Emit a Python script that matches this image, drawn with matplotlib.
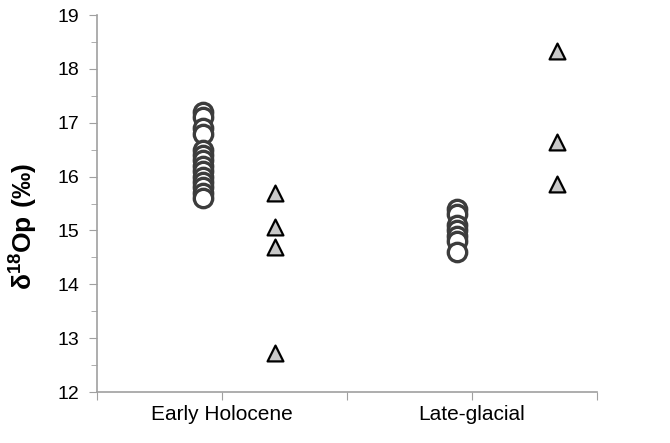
import matplotlib
matplotlib.use('Agg')
import matplotlib.pyplot as plt
from matplotlib.ticker import MultipleLocator

plt.rcParams['font.family'] = ['Liberation Sans', 'DejaVu Sans']
plt.rcParams['mathtext.fontset'] = 'custom'
plt.rcParams['mathtext.rm'] = 'Liberation Sans'
plt.rcParams['mathtext.bf'] = 'Liberation Sans:bold'

# Valeurs
categories = ['Early Holocene', 'Late-glacial']

eh_circles = [17.2, 17.1, 16.9, 16.8, 16.5, 16.4, 16.3, 16.2, 16.1, 16.0, 15.9, 15.8, 15.7, 15.6]
eh_triangles = [15.69, 15.07, 14.69, 12.72]
lg_circles = [15.4, 15.3, 15.1, 15.0, 14.9, 14.8, 14.6]
lg_triangles = [18.33, 16.65, 15.87]

fig = plt.figure(figsize=(6.7, 4.43), dpi=100)
ax = fig.add_axes([0.145, 0.115, 0.746, 0.851])

circ_style = dict(marker='o', s=175, facecolors='white', edgecolors='#3c3c3c', linewidths=2.4, zorder=3)
tri_style = dict(marker='^', s=130, facecolors='#c8c8c8', edgecolors='black', linewidths=1.6, zorder=3)

ax.scatter([0.85] * len(eh_circles), eh_circles, **circ_style)
ax.scatter([1.42] * len(eh_triangles), eh_triangles, **tri_style)
ax.scatter([2.88] * len(lg_circles), lg_circles, **circ_style)
ax.scatter([3.68] * len(lg_triangles), lg_triangles, **tri_style)

ax.set_xlim(0, 4)
ax.set_ylim(12, 19)
ax.set_xticks([0, 1, 2, 3, 4])
ax.set_xticklabels(['', categories[0], '', categories[1], ''], fontsize=15)
ax.yaxis.set_major_locator(MultipleLocator(1))
ax.yaxis.set_minor_locator(MultipleLocator(0.5))
ax.tick_params(axis='y', which='major', labelsize=14, length=6, color='#a0a0a0', pad=7)
ax.tick_params(axis='y', which='minor', length=4, color='#a0a0a0')
ax.tick_params(axis='x', which='major', length=6, color='#a0a0a0', pad=3)

for side in ['top', 'right']:
    ax.spines[side].set_visible(False)
for side in ['left', 'bottom']:
    ax.spines[side].set_color('#a0a0a0')
    ax.spines[side].set_linewidth(1.2)

ax.set_ylabel(r'$\mathbf{δ^{18}Op\ (‰)}$', fontsize=19)
ax.yaxis.set_label_coords(-0.115, 0.44)

fig.savefig('out.png', dpi=100)
